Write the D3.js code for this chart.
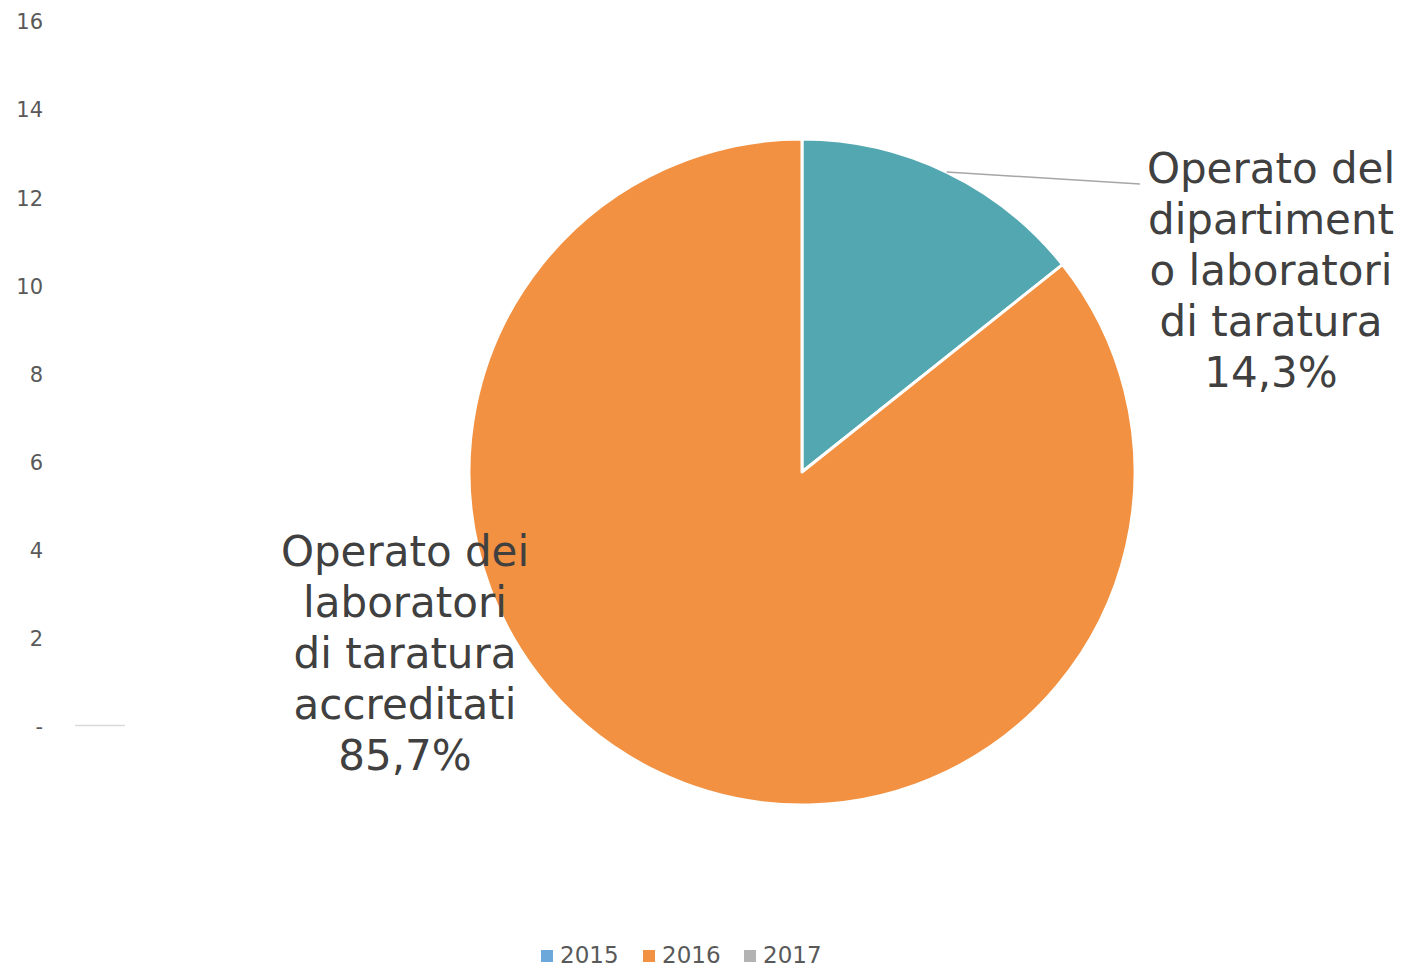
<!DOCTYPE html>
<html>
<head>
<meta charset="utf-8">
<script src="https://cdn.jsdelivr.net/npm/d3@7"></script>
<style>
  html, body { margin: 0; padding: 0; background: #fff; }
  svg { display: block; }
</style>
</head>
<body>
<svg id="chart" width="1404" height="970"></svg>
<script>
// Data
const sliceLabels = [
  ["Operato del", "dipartiment", "o laboratori", "di taratura", "14,3%"],
  ["Operato dei", "laboratori", "di taratura", "accreditati", "85,7%"]
];
const sliceValues = [14.3, 85.7];
const sliceColors = ["#53A7B0", "#F19141"];
const yTicks = [0, 2, 4, 6, 8, 10, 12, 14, 16];
const legendYears = ["2015", "2016", "2017"];
const legendColors = ["#6CA8DA", "#F19141", "#B3B3B3"];

const svg = d3.select("#chart");
const font = "'DejaVu Sans', Verdana, sans-serif";

// Y axis (residual from combo chart)
const y = d3.scaleLinear().domain([0, 16]).range([727, 22]);
const yAxis = svg.append("g");
yAxis.selectAll("text").data(yTicks).enter().append("text")
  .attr("x", 43)
  .attr("y", d => y(d))
  .attr("dy", "0.35em")
  .attr("text-anchor", "end")
  .attr("font-family", font)
  .attr("font-size", 21)
  .attr("fill", "#595959")
  .text(d => d === 0 ? "-" : d);

// Baseline stub
svg.append("line")
  .attr("x1", 75).attr("x2", 125)
  .attr("y1", y(0) - 1.5).attr("y2", y(0) - 1.5)
  .attr("stroke", "#D9D9D9").attr("stroke-width", 1.5);

// Pie
const cx = 802, cy = 472, r = 333;
const pie = d3.pie().sort(null).value(d => d);
const arcs = pie(sliceValues);
const arc = d3.arc().innerRadius(0).outerRadius(r);
const g = svg.append("g").attr("transform", `translate(${cx},${cy})`);
g.selectAll("path").data(arcs).enter().append("path")
  .attr("d", arc)
  .attr("fill", (d, i) => sliceColors[i])
  .attr("stroke", "#fff")
  .attr("stroke-width", 3)
  .attr("stroke-linejoin", "round");

// Leader line for small slice (from slice mid-angle on the rim)
const a0 = (arcs[0].startAngle + arcs[0].endAngle) / 2;
const lx = cx + Math.sin(a0) * r, ly = cy - Math.cos(a0) * r;
svg.append("path")
  .attr("d", `M${lx},${ly}L1140,184`)
  .attr("fill", "none")
  .attr("stroke", "#A6A6A6")
  .attr("stroke-width", 1.5);

// Labels
const labelPos = [[1271, 183], [405, 566]];
sliceLabels.forEach((lines, i) => {
  const t = svg.append("text")
    .attr("font-family", font)
    .attr("font-size", 42)
    .attr("fill", "#404040")
    .attr("text-anchor", "middle");
  lines.forEach((ln, j) => {
    t.append("tspan")
      .attr("x", labelPos[i][0])
      .attr("y", labelPos[i][1] + j * 51)
      .text(ln);
  });
});

// Legend
const legendX = [541, 643, 744];
const lg = svg.append("g");
legendYears.forEach((yr, i) => {
  lg.append("rect")
    .attr("x", legendX[i]).attr("y", 950)
    .attr("width", 12).attr("height", 12)
    .attr("fill", legendColors[i]);
  lg.append("text")
    .attr("x", legendX[i] + 19).attr("y", 963)
    .attr("font-family", font)
    .attr("font-size", 23)
    .attr("fill", "#595959")
    .text(yr);
});
</script>
</body>
</html>
